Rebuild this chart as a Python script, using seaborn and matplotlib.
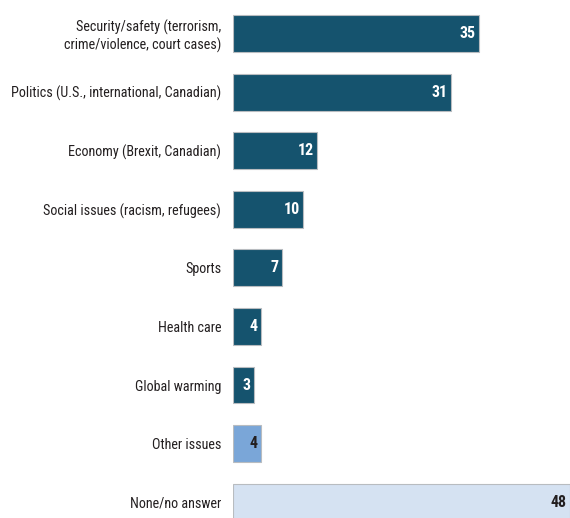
import matplotlib.pyplot as plt
import pandas as pd
import seaborn as sns

categories = [
    "Security/safety (terrorism,\ncrime/violence, court cases)",
    "Politics (U.S., international, Canadian)",
    "Economy (Brexit, Canadian)",
    "Social issues (racism, refugees)",
    "Sports",
    "Health care",
    "Global warming",
    "Other issues",
    "None/no answer",
]
values = [35, 31, 12, 10, 7, 4, 3, 4, 48]
groups = ["topic"] * 7 + ["other", "none"]

palette = {"topic": "#15536e", "other": "#7aa6d8", "none": "#d5e2f2"}
label_colors = {"topic": "white", "other": "#231f20", "none": "#231f20"}

df = pd.DataFrame({"category": categories, "value": values, "group": groups})

sns.set_style("white")
plt.rcParams["font.family"] = ["Roboto Condensed", "PT Sans Narrow", "DejaVu Sans"]

fig = plt.figure(figsize=(5.7, 5.18), dpi=100)
ax = fig.add_axes([233 / 570, 0, 1 - 233 / 570, 1])
sns.barplot(
    data=df, x="value", y="category", hue="group", palette=palette, saturation=1,
    dodge=False, legend=False, width=0.63, edgecolor="#b8bcc0", linewidth=0.8, ax=ax,
)

for i, (v, g) in enumerate(zip(values, groups)):
    ax.text(v - 0.45, i, str(v), ha="right", va="center", fontsize=11.5,
            fontweight="bold", color=label_colors[g])

ax.set_xlim(0, 48)
ax.set_ylim(8.27, -0.572)
ax.set_xlabel("")
ax.set_ylabel("")
ax.set_xticks([])
ax.tick_params(axis="y", length=0, pad=8.6, labelsize=10.2, labelcolor="#231f20")
sns.despine(ax=ax, left=True, bottom=True, top=True, right=True)

fig.savefig("out.png", dpi=100)
